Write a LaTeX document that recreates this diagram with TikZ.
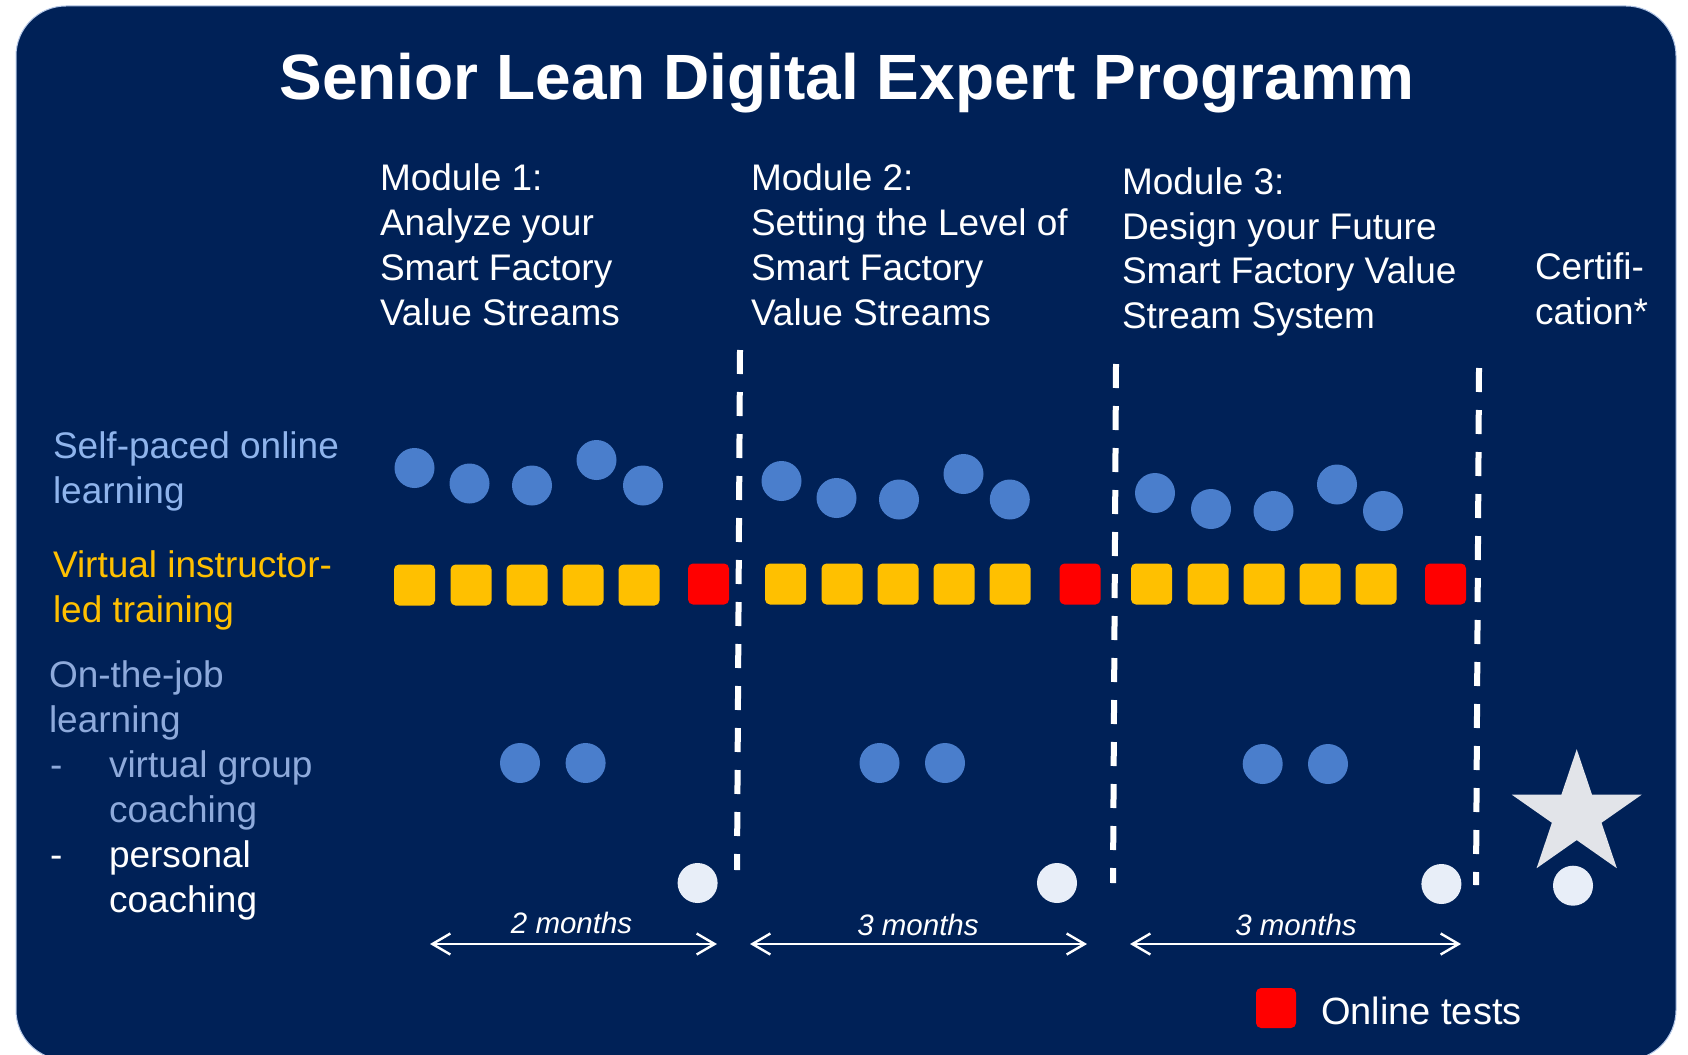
\documentclass[tikz,border=0pt]{standalone}
\usepackage{fontspec}
\setmainfont{Liberation Sans}
\usetikzlibrary{arrows.meta}
\definecolor{bg}{HTML}{002157}
\definecolor{edgecol}{HTML}{B4C7E7}
\definecolor{dotblue}{HTML}{4A7ECC}
\definecolor{gold}{HTML}{FFC000}
\definecolor{testred}{HTML}{FF0000}
\definecolor{paleblue}{HTML}{8FB4EC}
\definecolor{greyblue}{HTML}{8EAADB}
\definecolor{whitedot}{HTML}{E8EEF8}
\definecolor{stargrey}{HTML}{E2E4E9}
\begin{document}
\begin{tikzpicture}[x=1pt,y=-1pt,
  txt/.style={inner sep=0pt, outer sep=0pt, anchor=base west, align=left, text=white,
    font=\fontsize{37}{44.7}\selectfont},
  bdot/.style={circle, fill=dotblue, minimum size=40pt, inner sep=0pt},
  wdot/.style={circle, fill=whitedot, minimum size=40pt, inner sep=0pt},
  ysq/.style={rectangle, fill=gold, minimum width=41pt, minimum height=41pt, rounded corners=5pt, inner sep=0pt},
  rsq/.style={rectangle, fill=testred, minimum width=41pt, minimum height=41pt, rounded corners=5pt, inner sep=0pt},
  divider/.style={draw=white, line width=6pt, dash pattern=on 24pt off 18pt},
  span/.style={draw=white, line width=2.4pt,
    {Straight Barb[length=18pt,width=21pt,line width=2.4pt]}-{Straight Barb[length=18pt,width=21pt,line width=2.4pt]}},
  spanlbl/.style={inner sep=0pt, anchor=base, text=white, font=\fontsize{29.5}{34}\selectfont\itshape}
]
\useasboundingbox (0,0) rectangle (1688,1054);
\fill[white] (0,0) rectangle (1688,1054);
\draw[fill=bg, draw=edgecol, line width=1pt, rounded corners=50pt] (16,6) rectangle (1676,1060);

% title
\node[inner sep=0pt, anchor=base, text=white, font=\fontsize{64}{76}\selectfont\bfseries] (title) at (846.7,100) {Senior Lean Digital Expert Programm};

% module headers (anchor at baseline of last line)
\node[txt] (m1) at (380,325) {Module 1:\\Analyze your\\Smart Factory\\Value Streams};
\node[txt] (m2) at (751,325) {Module 2:\\Setting the Level of\\Smart Factory\\Value Streams};
\node[txt] (m3) at (1122,328.5) {Module 3:\\Design your Future\\Smart Factory Value\\Stream System};
\node[txt] (cert) at (1535,324) {Certifi-\\cation*};

% row labels
\node[txt, text=paleblue] (lself) at (53,503) {Self-paced online\\learning};
\node[txt, text=gold] (lvilt) at (53,622) {Virtual instructor-\\led training};
\node[txt, text=greyblue] (ljob) at (49,732) {On-the-job\\learning};
\node[txt, text=greyblue] (ldash1) at (50,777) {-};
\node[txt, text=greyblue] (lgroup) at (109,822) {virtual group\\coaching};
\node[txt] (ldash2) at (50,867) {-};
\node[txt] (lpers) at (109,912) {personal\\coaching};

% self-paced dots
\node[bdot] (s11) at (414.5,468) {};
\node[bdot] (s12) at (469.5,483.5) {};
\node[bdot] (s13) at (532,485.5) {};
\node[bdot] (s14) at (596.5,460) {};
\node[bdot] (s15) at (643,485.5) {};
\node[bdot] (s21) at (781.5,481) {};
\node[bdot] (s22) at (836.5,498) {};
\node[bdot] (s23) at (899,499.5) {};
\node[bdot] (s24) at (963.5,474) {};
\node[bdot] (s25) at (1009.8,499.5) {};
\node[bdot] (s31) at (1155,493) {};
\node[bdot] (s32) at (1211,509) {};
\node[bdot] (s33) at (1273.5,511) {};
\node[bdot] (s34) at (1337,484.5) {};
\node[bdot] (s35) at (1383,511) {};

% virtual training squares
\foreach \i/\x in {1/414.5,2/471,3/527,4/583,5/639} {\node[ysq] (v1\i) at (\x,585) {};}
\node[rsq] (t1) at (708.5,584) {};
\foreach \i/\x in {1/785.5,2/842,3/898,4/954,5/1010} {\node[ysq] (v2\i) at (\x,584) {};}
\node[rsq] (t2) at (1080,584) {};
\foreach \i/\x in {1/1151.5,2/1208,3/1264,4/1320,5/1376} {\node[ysq] (v3\i) at (\x,584) {};}
\node[rsq] (t3) at (1445.5,584) {};

% on-the-job dots
\node[bdot] (g11) at (520,763) {};
\node[bdot] (g12) at (585.6,763) {};
\node[bdot] (g21) at (879.5,763) {};
\node[bdot] (g22) at (945,763) {};
\node[bdot] (g31) at (1262.7,764) {};
\node[bdot] (g32) at (1328,764) {};

% personal coaching dots
\node[wdot] (p1) at (697.6,883) {};
\node[wdot] (p2) at (1057,883) {};
\node[wdot] (p3) at (1441.4,884) {};
\node[wdot] (p4) at (1573,885.7) {};

% certification star
\fill[stargrey] (1576.7,749.2)
  \foreach \k in {1,...,9} {
    -- ({1576.7+(mod(\k,2)==0 ? 68.3 : 26.1)*sin(36*\k)}, {815-(mod(\k,2)==0 ? 65.8 : 25.1)*cos(36*\k)})
  } -- cycle;

% dividers
\coordinate (d1t) at (740,350); \coordinate (d1b) at (737,870);
\coordinate (d2t) at (1116,364); \coordinate (d2b) at (1113,883);
\coordinate (d3t) at (1479,368); \coordinate (d3b) at (1476,885);
\draw[divider] (d1t) -- (d1b);
\draw[divider] (d2t) -- (d2b);
\draw[divider] (d3t) -- (d3b);

% duration spans
\coordinate (a1s) at (430,944); \coordinate (a1e) at (717,944);
\coordinate (a2s) at (750,944); \coordinate (a2e) at (1087,944);
\coordinate (a3s) at (1130,944); \coordinate (a3e) at (1461,944);
\draw[span] (a1s) -- (a1e);
\draw[span] (a2s) -- (a2e);
\draw[span] (a3s) -- (a3e);
\node[spanlbl] (l1) at (571.6,933) {2 months};
\node[spanlbl] (l2) at (918,935) {3 months};
\node[spanlbl] (l3) at (1296,935) {3 months};

% legend
\node[rsq, minimum width=40pt, minimum height=40pt] (leg) at (1276,1008) {};
\node[txt, font=\fontsize{38}{45}\selectfont] (legtxt) at (1321,1024) {Online tests};
\end{tikzpicture}
\end{document}
